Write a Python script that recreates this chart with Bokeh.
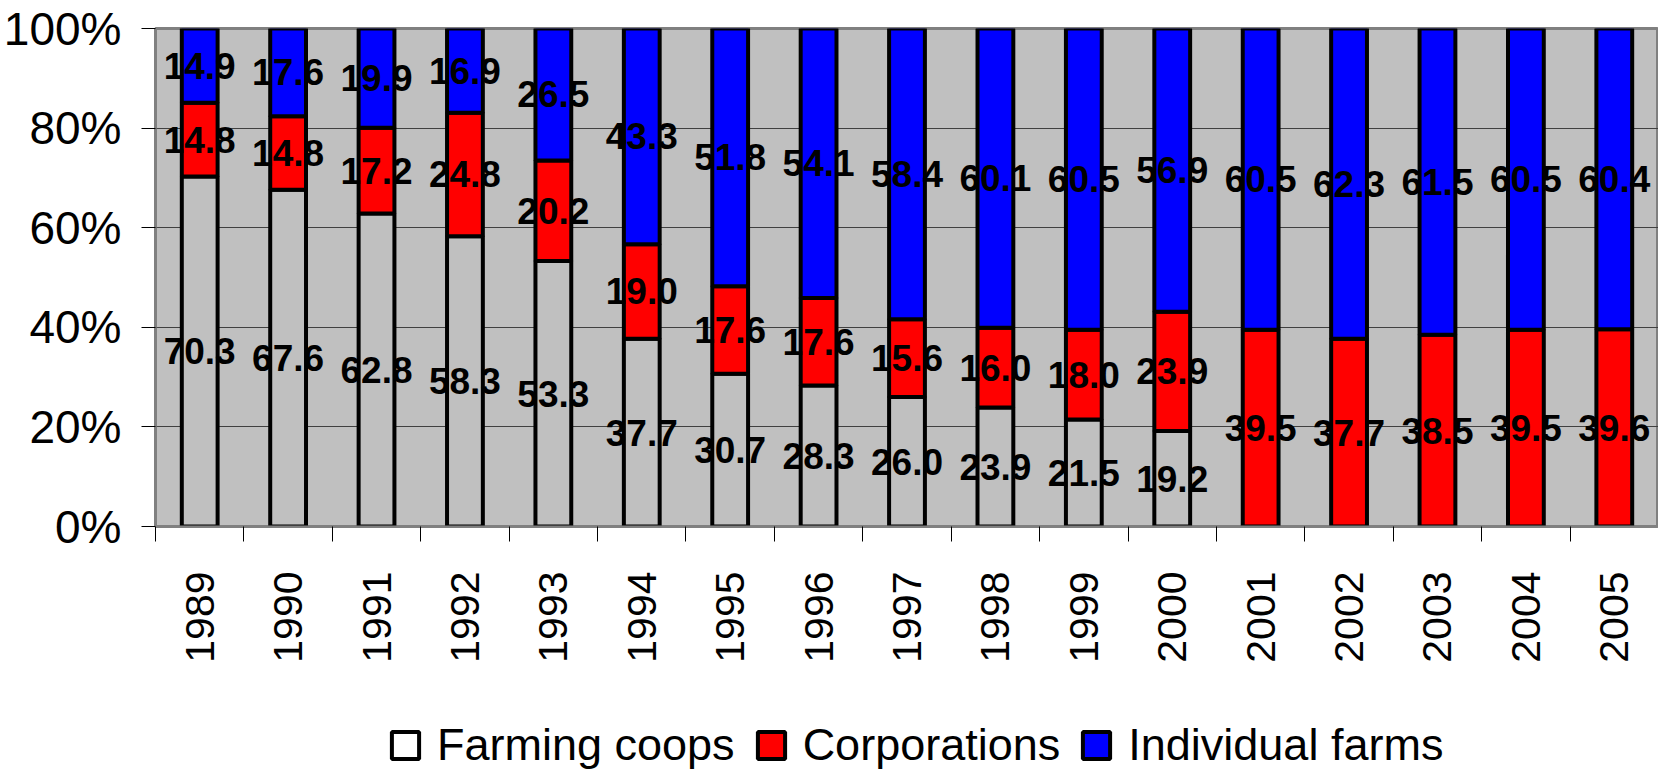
import math
from bokeh.plotting import figure
from bokeh.layouts import column
from bokeh.models import (ColumnDataSource, FixedTicker, Range1d, PrintfTickFormatter,
                          Legend, LegendItem, LabelSet)
from bokeh.embed import file_html
from bokeh.resources import INLINE
from bokeh.core.properties import value

years = ["1989", "1990", "1991", "1992", "1993", "1994", "1995", "1996", "1997",
         "1998", "1999", "2000", "2001", "2002", "2003", "2004", "2005"]
farming_coops = [70.3, 67.6, 62.8, 58.3, 53.3, 37.7, 30.7, 28.3, 26.0, 23.9, 21.5, 19.2,
                 0, 0, 0, 0, 0]
corporations = [14.8, 14.8, 17.2, 24.8, 20.2, 19.0, 17.6, 17.6, 15.6, 16.0, 18.0, 23.9,
                39.5, 37.7, 38.5, 39.5, 39.6]
individual_farms = [14.9, 17.6, 19.9, 16.9, 26.5, 43.3, 51.8, 54.1, 58.4, 60.1, 60.5, 56.9,
                    60.5, 62.3, 61.5, 60.5, 60.4]
y_ticks = [0, 20, 40, 60, 80, 100]

series = [("Farming coops", farming_coops, "#C0C0C0", "white"),
          ("Corporations", corporations, "#FF0000", "#FF0000"),
          ("Individual farms", individual_farms, "#0000FF", "#0000FF")]

xs = [i + 1 for i in range(len(years))]
totals = [sum(v) for v in zip(farming_coops, corporations, individual_farms)]

FONT_NAME = "Liberation Sans"
FONT = value(FONT_NAME)

p = figure(width=1658, height=665, output_backend="svg", toolbar_location=None,
           x_range=Range1d(0.5, len(years) + 0.5), y_range=Range1d(0, 100),
           min_border_left=150, min_border_top=28, min_border_right=0, min_border_bottom=137,
           background_fill_color="#C0C0C0", border_fill_color="white")
p.outline_line_color = "#808080"
p.outline_line_width = 3

bottoms = [0.0] * len(years)
for name, vals, color, key_color in series:
    pct = [v / t * 100 for v, t in zip(vals, totals)]
    tops = [b + q for b, q in zip(bottoms, pct)]
    src = ColumnDataSource(dict(x=xs, bottom=bottoms, top=tops))
    p.vbar(x="x", width=0.405, bottom="bottom", top="top", source=src,
           fill_color=color, line_color="black", line_width=4)
    lx, ly, lt = [], [], []
    for x, b, t, v in zip(xs, bottoms, tops, vals):
        if v > 0:
            lx.append(x)
            ly.append((b + t) / 2)
            lt.append(f"{v:.1f}")
    lsrc = ColumnDataSource(dict(x=lx, y=ly, text=lt))
    p.add_layout(LabelSet(x="x", y="y", text="text", source=lsrc,
                          text_align="center", text_baseline="middle",
                          text_font=FONT, text_font_style="bold",
                          text_font_size="37px", text_color="black"))
    bottoms = tops

# x axis: labels at category centres, ticks between categories
p.xaxis.ticker = FixedTicker(ticks=xs, minor_ticks=[i + 0.5 for i in range(len(years) + 1)])
p.xaxis.major_label_overrides = {x: y for x, y in zip(xs, years)}
p.xaxis.major_label_orientation = math.pi / 2
p.xaxis.major_tick_out = 0
p.xaxis.major_tick_in = 0
p.xaxis.minor_tick_out = 15
p.xaxis.minor_tick_in = 0
p.xaxis.minor_tick_line_color = "black"
p.xaxis.axis_line_color = "#808080"
p.xaxis.axis_line_width = 2
p.xaxis.major_label_standoff = 30
p.xaxis.major_label_text_font = FONT_NAME
p.xaxis.major_label_text_font_size = "41px"
p.xaxis.major_label_text_color = "black"

p.yaxis.ticker = FixedTicker(ticks=y_ticks)
p.yaxis.formatter = PrintfTickFormatter(format="%d%%")
p.yaxis.major_tick_out = 14
p.yaxis.major_tick_in = 0
p.yaxis.minor_tick_line_color = None
p.yaxis.major_tick_line_color = "black"
p.yaxis.axis_line_color = "#808080"
p.yaxis.axis_line_width = 2
p.yaxis.major_label_standoff = 20
p.yaxis.major_label_text_font = FONT_NAME
p.yaxis.major_label_text_font_size = "46px"
p.yaxis.major_label_text_color = "black"

p.xgrid.grid_line_color = None
p.ygrid.ticker = FixedTicker(ticks=y_ticks)
p.ygrid.grid_line_color = "#404040"
p.ygrid.grid_line_width = 1

# legend strip below the chart
leg = figure(width=1658, height=106, output_backend="svg", toolbar_location=None,
             x_range=Range1d(0, 1), y_range=Range1d(0, 1),
             x_axis_type=None, y_axis_type=None,
             min_border_left=0, min_border_right=0, min_border_top=0, min_border_bottom=0,
             background_fill_color="white", border_fill_color="white")
leg.outline_line_color = None
leg.xgrid.visible = False
leg.ygrid.visible = False
items = []
for name, vals, color, key_color in series:
    # key swatch only: a NaN row draws nothing in the frame
    ksrc = ColumnDataSource(dict(x=[float("nan")], top=[float("nan")]))
    kr = leg.vbar(x="x", top="top", width=0.1, source=ksrc,
                  fill_color=key_color, line_color="black", line_width=4)
    items.append(LegendItem(label=name, renderers=[kr]))
legend = Legend(items=items, orientation="horizontal", location=(233, 0),
                glyph_width=34, glyph_height=34, label_standoff=15, spacing=19,
                padding=0, margin=0, border_line_color=None, background_fill_alpha=0,
                label_text_font=FONT_NAME, label_text_font_size="45px", label_text_color="black")
leg.add_layout(legend)

open("out.html", "w").write(file_html(column(p, leg, spacing=0), INLINE))
